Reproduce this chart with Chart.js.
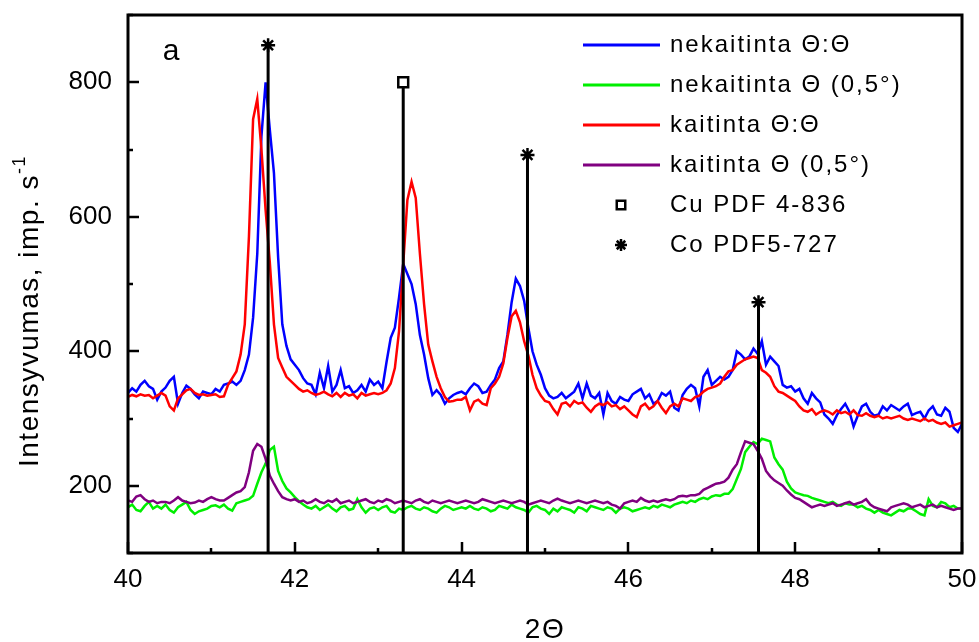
<!DOCTYPE html>
<html>
<head>
<meta charset="utf-8">
<script src="https://cdn.jsdelivr.net/npm/chart.js@4.4.1/dist/chart.umd.min.js"></script>
<style>
  html, body { margin: 0; padding: 0; background: #fff; }
</style>
</head>
<body>
<canvas id="xrd" width="979" height="642"></canvas>
<script>
// scan grid: 2theta from 40 to 50 deg, one reading every 0.05 deg
const scanStart = 40;
const scanStep = 0.05;

const seriesLabels = [
  "nekaitinta \u0398:\u0398",
  "nekaitinta \u0398 (0,5\u00b0)",
  "kaitinta \u0398:\u0398",
  "kaitinta \u0398 (0,5\u00b0)"
];

// intensities, one row per degree
const unheatedCoupled = [
  338, 345, 340, 350, 356, 348, 344, 328, 340, 346, 356, 362, 322, 338, 349, 344, 336, 330, 340, 338,
  336, 344, 340, 350, 352, 355, 350, 356, 372, 395, 450, 545, 720, 800, 730, 665, 540, 440, 408, 388,
  380, 372, 360, 352, 350, 336, 368, 345, 378, 340, 350, 372, 345, 348, 338, 342, 350, 340, 358, 350,
  355, 345, 384, 420, 435, 480, 530, 515, 500, 470, 424, 395, 360, 335, 342, 335, 322, 330, 335, 338,
  340, 336, 345, 352, 348, 338, 340, 350, 358, 375, 385, 425, 473, 508, 497, 475, 435, 400, 380, 365,
  345, 334, 330, 332, 338, 330, 335, 340, 352, 330, 352, 334, 330, 338, 306, 338, 326, 322, 332, 328,
  326, 336, 340, 344, 330, 336, 322, 326, 338, 334, 340, 316, 312, 335, 344, 350, 345, 318, 362, 372,
  350, 356, 362, 358, 362, 372, 400, 395, 388, 392, 404, 396, 415, 380, 392, 385, 378, 350, 346, 348,
  340, 344, 330, 322, 338, 330, 324, 306, 300, 292, 305, 314, 322, 310, 288, 304, 318, 322, 310, 304,
  306, 318, 312, 320, 316, 312, 318, 322, 305, 308, 310, 300, 312, 318, 306, 304, 316, 310, 286, 280,
  292
];

const unheatedGrazing = [
  168, 172, 164, 162, 170, 176, 166, 170, 166, 172, 164, 160, 168, 172, 176, 164, 158, 162, 164, 166,
  170, 171, 168, 172, 166, 163, 174, 176, 178, 180, 185, 203, 220, 233, 253, 258, 222, 207, 196, 190,
  183, 177, 172, 168, 166, 170, 164, 168, 172, 166, 162, 168, 170, 164, 166, 180, 168, 160, 166, 168,
  164, 168, 170, 162, 160, 166, 164, 168, 170, 166, 164, 168, 166, 162, 160, 166, 170, 168, 164, 166,
  168, 166, 170, 166, 164, 168, 166, 162, 164, 170, 168, 166, 172, 168, 166, 164, 160, 168, 170, 166,
  164, 158, 166, 162, 168, 166, 164, 160, 168, 166, 162, 170, 168, 166, 164, 168, 166, 160, 166, 168,
  166, 162, 164, 166, 168, 166, 170, 168, 172, 170, 168, 172, 174, 176, 174, 178, 176, 180, 182, 180,
  184, 186, 185, 188, 188, 195, 210, 225, 250, 258, 265, 262, 270, 268, 266, 242, 232, 224, 206, 196,
  190, 188, 186, 185, 182, 180, 178, 176, 174, 176, 172, 170, 174, 172, 172, 168, 170, 166, 164, 160,
  164, 160, 158, 156, 160, 164, 162, 166, 166, 162, 158, 156, 180, 170, 168, 176, 174, 168, 170, 166,
  166
];

const heatedCoupled = [
  332, 335, 333, 336, 334, 335, 330, 334, 338, 334, 318, 312, 330, 336, 342, 344, 338, 335, 336, 334,
  335, 336, 332, 333, 350, 360, 370, 395, 440, 570, 745, 775, 700, 610, 533, 440, 390, 376, 362, 356,
  350, 344, 340, 342, 338, 335, 337, 340, 336, 333, 338, 332, 338, 334, 336, 330, 338, 334, 336, 338,
  336, 338, 342, 352, 375, 430, 530, 625, 652, 628, 545, 470, 410, 385, 362, 345, 332, 325, 326, 328,
  328, 332, 312, 325, 328, 322, 320, 345, 352, 362, 382, 420, 452, 460, 443, 415, 394, 365, 345, 334,
  326, 324, 314, 306, 322, 324, 318, 326, 322, 324, 316, 310, 318, 322, 320, 324, 318, 320, 314, 318,
  312, 306, 302, 318, 322, 314, 318, 326, 316, 308, 318, 322, 318, 330, 328, 326, 332, 334, 340, 344,
  346, 348, 352, 362, 370, 372, 380, 384, 388, 390, 392, 390, 372, 368, 362, 348, 340, 338, 334, 330,
  326, 318, 312, 310, 314, 306, 310, 312, 310, 306, 312, 308, 310, 306, 312, 305, 304, 308, 304, 302,
  304, 300, 302, 300, 302, 304, 300, 298, 300, 298, 296, 300, 296, 298, 294, 292, 294, 288, 290, 292,
  294
];

const heatedGrazing = [
  178, 176, 184, 186, 180, 176, 178, 174, 176, 176, 174, 178, 183, 178, 176, 174, 175, 178, 176, 180,
  183, 180, 178, 178, 182, 186, 190, 192, 198, 220, 252, 262, 258, 240, 215, 203, 192, 183, 180, 178,
  180, 176, 178, 174, 176, 180, 176, 174, 178, 176, 180, 174, 176, 178, 174, 176, 178, 180, 176, 174,
  178, 176, 180, 178, 174, 176, 178, 176, 174, 178, 180, 176, 174, 178, 176, 174, 176, 178, 176, 174,
  176, 178, 176, 174, 176, 180, 178, 176, 174, 176, 178, 176, 174, 176, 178, 176, 172, 174, 176, 178,
  176, 174, 178, 181, 178, 176, 174, 176, 178, 176, 174, 176, 178, 176, 174, 176, 172, 170, 166, 174,
  176, 178, 176, 182, 178, 176, 178, 176, 178, 180, 178, 180, 184, 185, 184, 186, 186, 188, 194, 197,
  200, 203, 204, 206, 212, 224, 232, 250, 266, 264, 262, 252, 240, 222, 214, 208, 204, 200, 193, 187,
  182, 180, 176, 172, 168, 170, 172, 170, 172, 174, 170, 172, 174, 176, 172, 174, 176, 180, 172, 168,
  166, 164, 162, 168, 170, 172, 174, 172, 168, 170, 172, 168, 170, 172, 168, 170, 168, 166, 164, 166,
  166
];

// reference patterns (stick positions and drawn heights)
const cuLabel = "Cu PDF 4-836";
const cuPeaks = [43.30];
const cuHeights = [800];
const coLabel = "Co PDF5-727";
const coPeaks = [41.68, 44.79, 47.56];
const coHeights = [855, 692, 473];

const xMin = 40, xMax = 50;
const yMin = 100, yMax = 900;

function toPoints(counts) {
  return counts.map((y, i) => ({ x: +(scanStart + i * scanStep).toFixed(2), y }));
}

function stickPoints(pos, heights) {
  const pts = [];
  pos.forEach((x, i) => {
    if (i > 0) pts.push({ x, y: null });
    pts.push({ x, y: yMin }, { x, y: heights[i] });
  });
  return pts;
}

function curve(label, counts, color, order) {
  return {
    label, data: toPoints(counts), borderColor: color, backgroundColor: color,
    borderWidth: 2.5, pointRadius: 0, tension: 0, fill: false, order, mark: "line"
  };
}

function sticks(label, pos, heights, style, radius, order) {
  return {
    label, data: stickPoints(pos, heights), borderColor: "#000", backgroundColor: "#fff",
    borderWidth: 3, tension: 0, fill: false, order, mark: style,
    pointStyle: style, pointBorderWidth: 2.5, pointBorderColor: "#000",
    pointBackgroundColor: style === "star" ? "#000" : "#fff",
    pointRadius: c => (c.raw && c.raw.y > yMin ? radius : 0)
  };
}

const font = '"Liberation Sans", Arial, sans-serif';

// no extra room for edge labels: the plot box is fixed
function noPad(s) {
  s.paddingTop = 0; s.paddingBottom = 0; s.paddingLeft = 0; s.paddingRight = 0;
}

// inward tick marks and the closed frame
const frameTicks = {
  id: "frameTicks",
  afterDatasetsDraw(chart) {
    const { ctx, chartArea: a, scales: { x, y } } = chart;
    ctx.save();
    ctx.strokeStyle = "#000";
    ctx.lineWidth = 2.5;
    ctx.beginPath();
    x.ticks.forEach(t => {
      const px = Math.round(x.getPixelForValue(t.value));
      const len = t.value % 2 === 0 ? 11 : 5;
      ctx.moveTo(px, a.bottom);
      ctx.lineTo(px, a.bottom - len);
    });
    y.ticks.forEach(t => {
      const py = Math.round(y.getPixelForValue(t.value));
      const len = t.value % 200 === 0 ? 11 : 5;
      ctx.moveTo(a.left, py);
      ctx.lineTo(a.left + len, py);
    });
    ctx.stroke();
    ctx.lineWidth = 3;
    ctx.strokeRect(a.left, a.top, a.right - a.left, a.bottom - a.top);
    ctx.restore();
  }
};

// legend, panel letter and axis titles
const annotations = {
  id: "annotations",
  afterDraw(chart) {
    const ctx = chart.ctx;
    ctx.save();
    ctx.fillStyle = "#000";

    ctx.font = "30px " + font;
    ctx.textAlign = "center";
    ctx.textBaseline = "alphabetic";
    ctx.fillText("a", 171, 60);

    ctx.font = "24px " + font;
    ctx.letterSpacing = "2px";
    ctx.textAlign = "left";
    ctx.textBaseline = "middle";
    chart.data.datasets.forEach((ds, i) => {
      const rowY = 45 + i * 40;
      if (ds.mark === "line") {
        ctx.strokeStyle = ds.borderColor;
        ctx.lineWidth = 3;
        ctx.beginPath();
        ctx.moveTo(583, rowY);
        ctx.lineTo(660, rowY);
        ctx.stroke();
      } else {
        ctx.strokeStyle = "#000";
        ctx.fillStyle = ds.pointBackgroundColor;
        ctx.lineWidth = 2.5;
        Chart.helpers.drawPoint(ctx, { pointStyle: ds.mark, radius: 6, borderWidth: 2.5 }, 621, rowY);
        ctx.fillStyle = "#000";
      }
      ctx.fillText(ds.label, 670, rowY);
    });

    ctx.letterSpacing = "1.5px";
    ctx.textAlign = "center";
    ctx.textBaseline = "middle";
    ctx.font = "28px " + font;
    ctx.fillText("2\u0398", 545, 630);

    ctx.translate(38, 311);
    ctx.rotate(-Math.PI / 2);
    ctx.textAlign = "left";
    ctx.textBaseline = "alphabetic";
    const main = "Intensyvumas, imp. s";
    const sup = "-1";
    ctx.font = "28px " + font;
    const wMain = ctx.measureText(main).width;
    ctx.font = "18px " + font;
    const wSup = ctx.measureText(sup).width;
    const start = -(wMain + wSup) / 2;
    ctx.font = "28px " + font;
    ctx.fillText(main, start, 0);
    ctx.font = "18px " + font;
    ctx.fillText(sup, start + wMain, -13);
    ctx.restore();
  }
};

const chart = new Chart(document.getElementById("xrd"), {
  type: "line",
  data: {
    datasets: [
      curve(seriesLabels[0], unheatedCoupled, "#0000ff", 3),
      curve(seriesLabels[1], unheatedGrazing, "#00ee00", 2),
      curve(seriesLabels[2], heatedCoupled, "#ff0000", 1),
      curve(seriesLabels[3], heatedGrazing, "#800080", 0),
      sticks(cuLabel, cuPeaks, cuHeights, "rect", 7, -1),
      sticks(coLabel, coPeaks, coHeights, "star", 7, -2)
    ]
  },
  options: {
    responsive: false,
    animation: false,
    events: [],
    layout: { padding: { left: 0, right: 17, top: 15, bottom: 0 } },
    plugins: { legend: { display: false }, tooltip: { enabled: false } },
    scales: {
      x: {
        type: "linear", min: xMin, max: xMax,
        grid: { display: false, drawTicks: false },
        border: { display: false },
        ticks: {
          stepSize: 1, autoSkip: false, maxRotation: 0, padding: 11,
          color: "#000", font: { family: font, size: 26 },
          callback: v => (v % 2 === 0 ? v : "")
        },
        afterFit: s => { s.height = 89; noPad(s); }
      },
      y: {
        min: yMin, max: yMax,
        grid: { display: false, drawTicks: false },
        border: { display: false },
        ticks: {
          stepSize: 100, autoSkip: false, padding: 16,
          color: "#000", font: { family: font, size: 26 },
          callback: v => (v % 200 === 0 ? v : "")
        },
        afterFit: s => { s.width = 128; noPad(s); }
      }
    }
  },
  plugins: [frameTicks, annotations]
});
</script>
</body>
</html>
